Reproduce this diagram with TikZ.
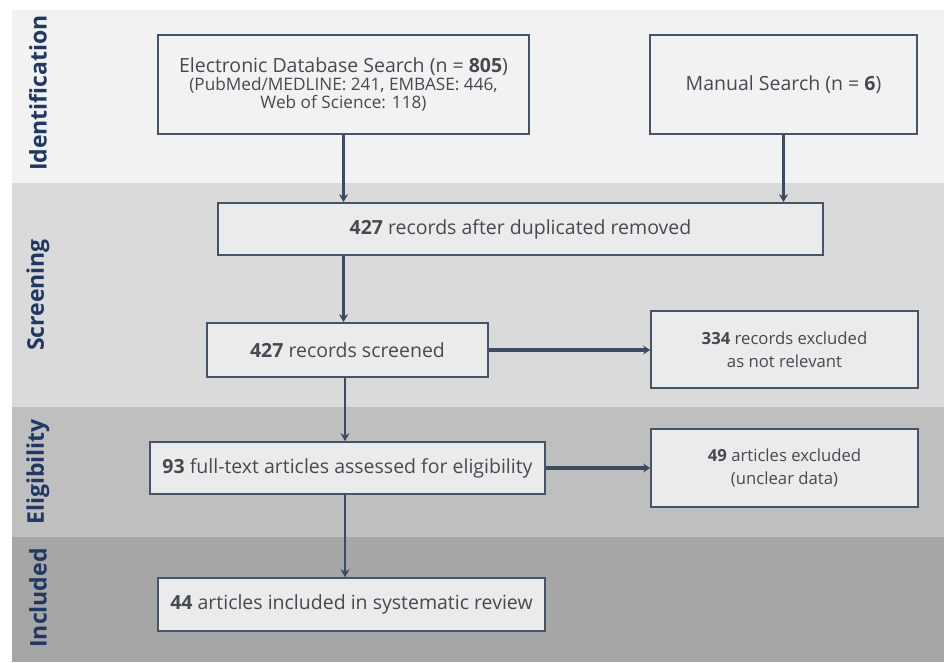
\documentclass[tikz,border=0pt]{standalone}
\usepackage{fontspec}
\setmainfont{Open Sans}
\usetikzlibrary{arrows.meta}

% phase band and ink colours
\definecolor{bandIdent}{HTML}{F2F2F2}
\definecolor{bandScreen}{HTML}{DADADA}
\definecolor{bandElig}{HTML}{BFBFBF}
\definecolor{bandIncl}{HTML}{A6A6A6}
\definecolor{boxEdge}{HTML}{44546A}
\definecolor{boxFill}{HTML}{EBEBEB}
\definecolor{boxFillLight}{HTML}{F2F2F2}
\definecolor{bodyText}{HTML}{454A52}
\definecolor{laneText}{HTML}{1F3864}
\definecolor{flowLine}{HTML}{3B4B61}

\tikzset{
  stagebox/.style={draw=boxEdge, line width=1.7pt, fill=boxFill, inner sep=0pt,
    text=bodyText, align=center, font=\fontsize{19.5}{23}\selectfont},
  sidebox/.style={stagebox, font=\fontsize{16.7}{23}\selectfont},
  lanelabel/.style={rotate=90, text=laneText, font=\bfseries\fontsize{23}{26}\selectfont},
  flow/.style={draw=flowLine, line width=2.2pt, -{Stealth[length=8pt,width=9pt]}},
  sideflow/.style={flow, line width=3.2pt, -{Stealth[length=7pt,width=9pt]}}
}

\begin{document}
\begin{tikzpicture}[x=1pt,y=-1pt]
\useasboundingbox (0,0) rectangle (944,662);
\fill[white] (0,0) rectangle (944,662);

% phase bands
\fill[bandIdent]  (12,10)  rectangle (944,183);
\fill[bandScreen] (12,183) rectangle (944,407);
\fill[bandElig]   (12,407) rectangle (944,537);
\fill[bandIncl]   (12,537) rectangle (944,662);

% phase labels
\node[lanelabel] (labIdent)  at (38,93)  {Identification};
\node[lanelabel] (labScreen) at (38,295) {Screening};
\node[lanelabel] (labElig)   at (38,472) {Eligibility};
\node[lanelabel] (labIncl)   at (38,598) {Included};

% flow boxes
\node[stagebox, fill=boxFillLight, minimum width=371pt, minimum height=99pt,
      font=\fontsize{19.5}{18}\selectfont] (elec) at (343.5,84.5)
  {Electronic Database Search (n = \textbf{805})\\
   {\fontsize{17.2}{18}\selectfont (PubMed/MEDLINE: 241, EMBASE: 446,}\\
   {\fontsize{17.2}{18}\selectfont Web of Science: 118)}};
\node[stagebox, fill=boxFillLight, minimum width=267pt, minimum height=99pt] (manual) at (783.5,84.5)
  {Manual Search (n = \textbf{6})};
\node[stagebox, minimum width=605pt, minimum height=52pt] (dup) at (520.5,229)
  {\textbf{427} records after duplicated removed};
\node[stagebox, minimum width=281pt, minimum height=54pt] (scr) at (347.5,350)
  {\textbf{427} records screened};
\node[sidebox, minimum width=267pt, minimum height=77pt] (ex1) at (784.5,349.5)
  {\textbf{334} records excluded\\as not relevant};
\node[stagebox, minimum width=395pt, minimum height=52pt] (full) at (347.5,468)
  {\textbf{93} full-text articles assessed for eligibility};
\node[sidebox, minimum width=267pt, minimum height=78pt] (ex2) at (784.5,468)
  {\textbf{49} articles excluded\\(unclear data)};
\node[stagebox, minimum width=387pt, minimum height=53pt] (incl) at (351.5,604.5)
  {\textbf{44} articles included in systematic review};

% main column of the flow
\coordinate (col) at (345,0);

% connectors
\draw[flow] (elec.south) -- (elec.south |- dup.north);
\draw[flow] (manual.south) -- (manual.south |- dup.north);
\draw[flow] (dup.south -| elec.south) -- (scr.north -| elec.south);
\draw[flow] (scr.south -| col) -- (full.north -| col);
\draw[flow] (full.south -| col) -- (incl.north -| col);
\draw[sideflow] (scr.east) -- (scr.east -| ex1.west);
\draw[sideflow] (full.east) -- (full.east -| ex2.west);
\end{tikzpicture}
\end{document}
